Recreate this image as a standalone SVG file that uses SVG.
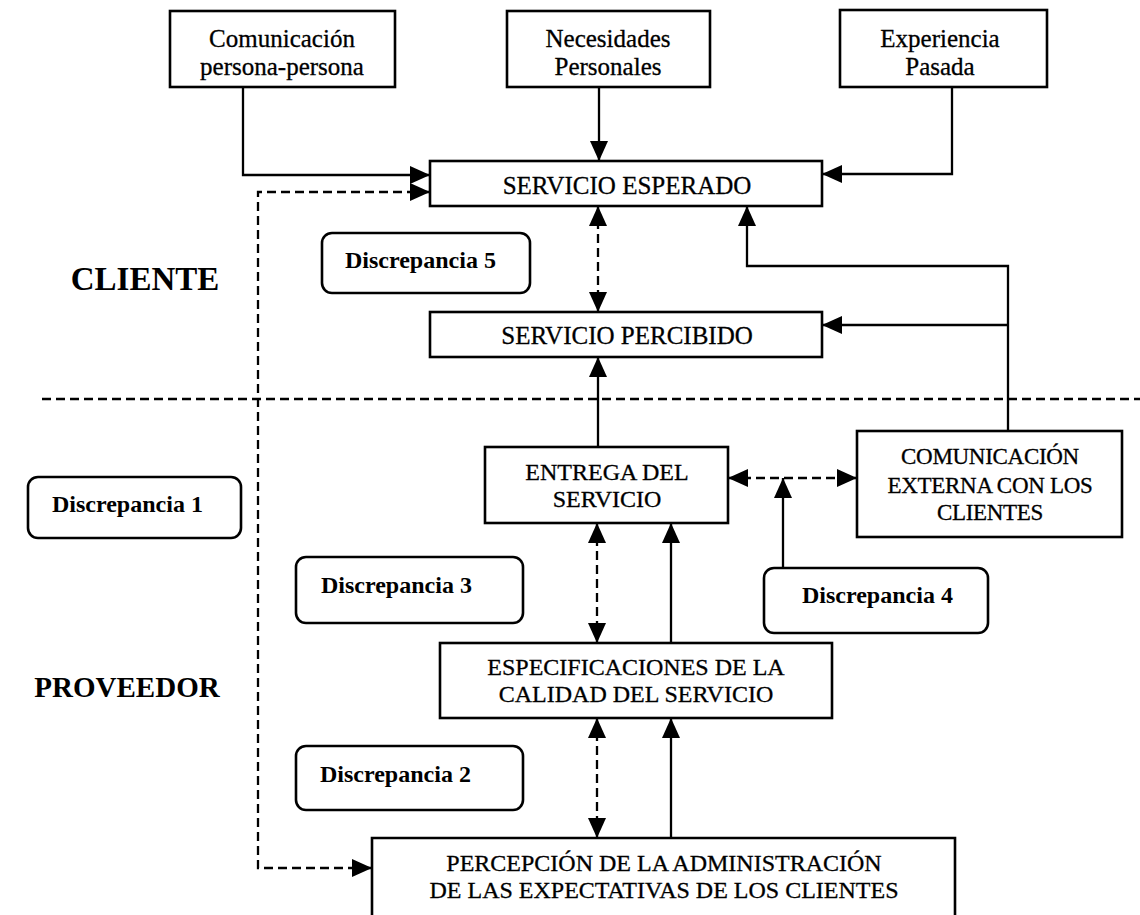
<svg xmlns="http://www.w3.org/2000/svg" width="1140" height="915" viewBox="0 0 1140 915">
  <style>
    .box { fill: #fff; stroke: #000; stroke-width: 2.6; }
    .gap { fill: #fff; stroke: #000; stroke-width: 2.6; }
    .t { font-family: "Liberation Serif", "Times New Roman", serif; font-size: 25px; fill: #000; stroke: #000; stroke-width: 0.3; text-anchor: middle; }
    .tm { font-family: "Liberation Serif", "Times New Roman", serif; font-size: 24px; fill: #000; stroke: #000; stroke-width: 0.3; text-anchor: middle; }
    .ts { font-family: "Liberation Serif", "Times New Roman", serif; font-size: 23px; fill: #000; stroke: #000; stroke-width: 0.3; text-anchor: middle; letter-spacing: -0.3px; }
    .lab { font-family: "Liberation Serif", "Times New Roman", serif; font-size: 24px; font-weight: bold; fill: #000; }
    .zone { font-family: "Liberation Serif", "Times New Roman", serif; font-weight: bold; fill: #000; text-anchor: middle; }
    .ln { fill: none; stroke: #000; stroke-width: 2.3; }
    .dash { fill: none; stroke: #000; stroke-width: 2.3; stroke-dasharray: 9 5; }
  </style>
  <defs>
    <marker id="arrow" markerUnits="userSpaceOnUse" markerWidth="20" markerHeight="18" refX="20" refY="9" orient="auto">
      <path d="M0,0 L20,9 L0,18 Z" fill="#000"/>
    </marker>
    <marker id="arrow2" markerUnits="userSpaceOnUse" markerWidth="20" markerHeight="18" refX="20" refY="9" orient="auto-start-reverse">
      <path d="M0,0 L20,9 L0,18 Z" fill="#000"/>
    </marker>
  </defs>

  <rect width="1140" height="915" fill="#fff"/>

  <!-- zone labels -->
  <text class="zone" x="145" y="290" font-size="33">CLIENTE</text>
  <text class="zone" x="127" y="697" font-size="29">PROVEEDOR</text>

  <!-- connectors -->
  <g id="connectors">
    <path class="dash" d="M42,399 H1140"/>
    <path class="ln" d="M243,87 V175 H430" marker-end="url(#arrow)"/>
    <path class="ln" d="M599,87 V161" marker-end="url(#arrow)"/>
    <path class="ln" d="M952,87 V174 H822" marker-end="url(#arrow)"/>
    <path class="dash" d="M430,192 H258 V868 H372" marker-start="url(#arrow2)" marker-end="url(#arrow2)"/>
    <path class="dash" d="M598,206 V312" marker-start="url(#arrow2)" marker-end="url(#arrow2)"/>
    <path class="ln" d="M598,447 V357" marker-end="url(#arrow)"/>
    <path class="ln" d="M1008,431 V266 H747 V206" marker-end="url(#arrow)"/>
    <path class="ln" d="M1008,325 H822" marker-end="url(#arrow)"/>
    <path class="dash" d="M728,478 H857" marker-start="url(#arrow2)" marker-end="url(#arrow2)"/>
    <path class="ln" d="M783,568 V478" marker-end="url(#arrow)"/>
    <path class="dash" d="M597,523 V643" marker-start="url(#arrow2)" marker-end="url(#arrow2)"/>
    <path class="ln" d="M671,643 V523" marker-end="url(#arrow)"/>
    <path class="dash" d="M597,718 V838" marker-start="url(#arrow2)" marker-end="url(#arrow2)"/>
    <path class="ln" d="M671,838 V718" marker-end="url(#arrow)"/>
  </g>

  <!-- top inputs -->
  <g id="comunicacion-persona">
    <rect class="box" x="170" y="11" width="225" height="76"/>
    <text class="t" x="282" y="47">Comunicación</text>
    <text class="t" x="282" y="75">persona-persona</text>
  </g>
  <g id="necesidades">
    <rect class="box" x="507" y="11" width="203" height="76"/>
    <text class="t" x="608" y="47">Necesidades</text>
    <text class="t" x="608" y="75">Personales</text>
  </g>
  <g id="experiencia">
    <rect class="box" x="840" y="10" width="207" height="77"/>
    <text class="t" x="940" y="47">Experiencia</text>
    <text class="t" x="940" y="75">Pasada</text>
  </g>

  <!-- client side -->
  <g id="servicio-esperado">
    <rect class="box" x="430" y="161" width="392" height="45"/>
    <text class="t" x="627" y="194">SERVICIO ESPERADO</text>
  </g>
  <g id="servicio-percibido">
    <rect class="box" x="430" y="312" width="392" height="45"/>
    <text class="t" x="627" y="344">SERVICIO PERCIBIDO</text>
  </g>

  <!-- provider side -->
  <g id="entrega">
    <rect class="box" x="485" y="447" width="243" height="76"/>
    <text class="tm" x="607" y="480">ENTREGA DEL</text>
    <text class="tm" x="607" y="507">SERVICIO</text>
  </g>
  <g id="comunicacion-externa">
    <rect class="box" x="857" y="431" width="265" height="106"/>
    <text class="ts" x="990" y="464">COMUNICACIÓN</text>
    <text class="ts" x="990" y="493">EXTERNA CON LOS</text>
    <text class="ts" x="990" y="520">CLIENTES</text>
  </g>
  <g id="especificaciones">
    <rect class="box" x="440" y="643" width="392" height="75"/>
    <text class="tm" x="636" y="675">ESPECIFICACIONES DE LA</text>
    <text class="tm" x="636" y="702">CALIDAD DEL SERVICIO</text>
  </g>
  <g id="percepcion">
    <path class="box" d="M372,920 V838 H955 V920"/>
    <text class="tm" x="664" y="871">PERCEPCIÓN DE LA ADMINISTRACIÓN</text>
    <text class="tm" x="664" y="898">DE LAS EXPECTATIVAS DE LOS CLIENTES</text>
  </g>

  <!-- gap labels -->
  <g id="discrepancia-5">
    <rect class="gap" x="322" y="233" width="208" height="60" rx="10"/>
    <text class="lab" x="345" y="268">Discrepancia 5</text>
  </g>
  <g id="discrepancia-1">
    <rect class="gap" x="28" y="477" width="213" height="61" rx="10"/>
    <text class="lab" x="52" y="512">Discrepancia 1</text>
  </g>
  <g id="discrepancia-3">
    <rect class="gap" x="296" y="557" width="227" height="66" rx="10"/>
    <text class="lab" x="321" y="593">Discrepancia 3</text>
  </g>
  <g id="discrepancia-4">
    <rect class="gap" x="764" y="568" width="224" height="65" rx="10"/>
    <text class="lab" x="802" y="603">Discrepancia 4</text>
  </g>
  <g id="discrepancia-2">
    <rect class="gap" x="296" y="746" width="227" height="64" rx="10"/>
    <text class="lab" x="320" y="782">Discrepancia 2</text>
  </g>
</svg>
